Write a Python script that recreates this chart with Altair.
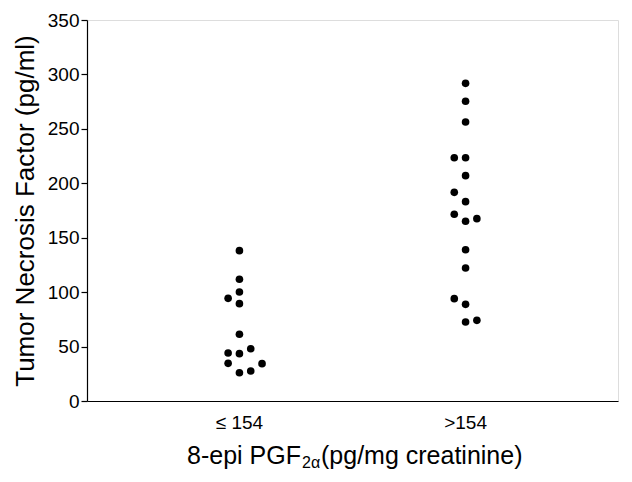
import altair as alt
import pandas as pd

# Data
group_labels = ["≤ 154", ">154"]
g1_values = [138.1, 111.8, 100.1, 94.3, 89.4, 61.3, 48.0, 44.1, 43.5, 34.6, 34.3, 27.6, 26.0]
g1_cols = [0, 0, 0, -1, 0, 0, 1, -1, 0, -1, 2, 1, 0]
g2_values = [291.8, 275.3, 256.3, 223.5, 223.5, 207.0, 191.7, 183.1, 171.5, 167.5, 165.1,
             139.0, 122.2, 94.0, 88.8, 74.1, 72.6]
g2_cols = [0, 0, 0, -1, 0, 0, -1, 0, -1, 1, 0, 0, 0, -1, 0, 1, 0]
y_ticks = [0, 50, 100, 150, 200, 250, 300, 350]

rows = []
for v, c in zip(g1_values, g1_cols):
    rows.append({"group": group_labels[0], "tnf": v, "col": c})
for v, c in zip(g2_values, g2_cols):
    rows.append({"group": group_labels[1], "tnf": v, "col": c})
df = pd.DataFrame(rows)

FONT = "Liberation Sans"
W, H = 531, 381

points = alt.Chart(df).mark_circle(size=58, color="black", opacity=1).encode(
    x=alt.X("group:N", sort=group_labels,
            scale=alt.Scale(paddingInner=0, paddingOuter=0.174),
            axis=alt.Axis(title=None, ticks=False, domain=True, domainColor="black",
                          domainWidth=1.2,
                          labelAngle=0, labelFontSize=19, labelFont=FONT,
                          labelColor="black", labelPadding=12)),
    xOffset=alt.XOffset("col:Q", scale=alt.Scale(domain=[-10, 10])),
    y=alt.Y("tnf:Q", scale=alt.Scale(domain=[0, 350], nice=False),
            axis=alt.Axis(title="Tumor Necrosis Factor (pg/ml)", values=y_ticks,
                          grid=False, tickSize=6, tickColor="black", domainColor="black",
                          domainWidth=1.2, tickWidth=1.2,
                          labelFontSize=19, labelFont=FONT, labelColor="black",
                          labelPadding=2, titleFont=FONT, titleFontSize=26,
                          titleFontWeight="normal", titleColor="black",
                          titlePadding=9)),
)

t1 = alt.Chart(pd.DataFrame({"t": ["8-epi PGF"]})).mark_text(
    align="right", baseline="alphabetic", font=FONT, fontSize=25, color="black"
).encode(x=alt.value(214), y=alt.value(444), text="t:N")
t2 = alt.Chart(pd.DataFrame({"t": ["2α"]})).mark_text(
    align="left", baseline="alphabetic", font=FONT, fontSize=16, color="black"
).encode(x=alt.value(215), y=alt.value(448), text="t:N")
t3 = alt.Chart(pd.DataFrame({"t": ["(pg/mg creatinine)"]})).mark_text(
    align="left", baseline="alphabetic", font=FONT, fontSize=25, color="black"
).encode(x=alt.value(234), y=alt.value(444), text="t:N")

chart = alt.layer(points, t1, t2, t3).properties(
    width=W, height=H,
    autosize=alt.AutoSizeParams(type="none"),
    padding={"left": 79, "top": 12, "right": 6, "bottom": 70},
).configure_view(stroke="black", strokeWidth=1.5).configure(background="white")

chart.save("out.html", embed_options={"renderer": "svg", "actions": False})
